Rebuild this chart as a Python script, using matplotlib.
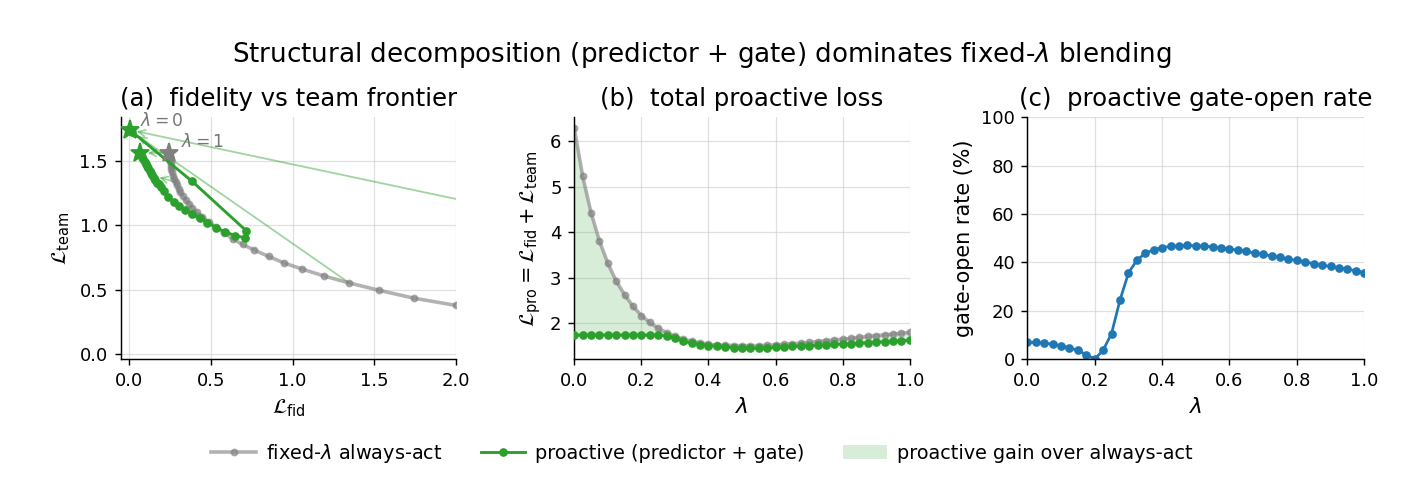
import numpy as np
import matplotlib
matplotlib.use("Agg")
import matplotlib.pyplot as plt
from matplotlib.lines import Line2D
from matplotlib.patches import Patch, FancyArrowPatch

lam = [0.000, 0.025, 0.050, 0.075, 0.100, 0.125, 0.150, 0.175, 0.200, 0.225,
       0.250, 0.275, 0.300, 0.325, 0.350, 0.375, 0.400, 0.425, 0.450, 0.475,
       0.500, 0.525, 0.550, 0.575, 0.600, 0.625, 0.650, 0.675, 0.700, 0.725,
       0.750, 0.775, 0.800, 0.825, 0.850, 0.875, 0.900, 0.925, 0.950, 0.975, 1.000]

# fixed-lambda always-act
fixed_fid = [6.21, 5.10, 4.26, 3.60, 3.07, 2.65, 2.30, 2.00, 1.74, 1.53,
             1.346, 1.192, 1.06, 0.946, 0.853, 0.767, 0.694, 0.635, 0.582, 0.532,
             0.488, 0.449, 0.415, 0.386, 0.367, 0.348, 0.330, 0.312, 0.304, 0.294,
             0.286, 0.278, 0.269, 0.262, 0.259, 0.256, 0.254, 0.251, 0.248, 0.246, 0.243]
fixed_team = [0.07, 0.13, 0.17, 0.21, 0.25, 0.28, 0.33, 0.377, 0.434, 0.494,
              0.552, 0.606, 0.659, 0.708, 0.758, 0.807, 0.851, 0.893, 0.94, 0.985,
              1.025, 1.065, 1.10, 1.135, 1.165, 1.195, 1.225, 1.255, 1.28, 1.31,
              1.335, 1.36, 1.385, 1.41, 1.435, 1.46, 1.48, 1.50, 1.52, 1.54, 1.5625]

# proactive (predictor + gate)
pro_fid = [0.004, 0.004, 0.004, 0.003, 0.003, 0.003, 0.002, 0.001, 0.000, 0.002,
           0.020, 0.387, 0.716, 0.709, 0.648, 0.587, 0.532, 0.480, 0.432, 0.383,
           0.342, 0.306, 0.275, 0.240, 0.212, 0.195, 0.182, 0.170, 0.160, 0.151,
           0.143, 0.135, 0.127, 0.119, 0.111, 0.103, 0.096, 0.089, 0.082, 0.076, 0.070]
pro_team = [1.741, 1.741, 1.741, 1.742, 1.742, 1.742, 1.743, 1.744, 1.745, 1.743,
            1.725, 1.340, 0.958, 0.903, 0.919, 0.950, 0.981, 1.020, 1.055, 1.088,
            1.120, 1.153, 1.184, 1.223, 1.263, 1.295, 1.318, 1.330, 1.350, 1.369,
            1.387, 1.405, 1.423, 1.441, 1.459, 1.477, 1.494, 1.511, 1.528, 1.544, 1.560]

gate_rate = [6.9, 6.9, 6.6, 6.2, 5.5, 4.7, 3.6, 1.9, 0.0, 3.7,
             10.6, 24.4, 35.5, 40.9, 43.7, 45.2, 46.1, 46.6, 46.8, 47.0,
             46.8, 46.7, 46.4, 46.0, 45.6, 45.0, 44.5, 43.8, 43.3, 42.6,
             42.0, 41.3, 40.8, 40.1, 39.5, 38.8, 38.3, 37.7, 37.2, 36.5, 35.8]

arrow_lams = [0.0, 0.25, 0.5, 0.75, 1.0]

lam_a = np.array(lam)
ffid, fteam = np.array(fixed_fid), np.array(fixed_team)
pfid, pteam = np.array(pro_fid), np.array(pro_team)
fixed_total = ffid + fteam
pro_total = pfid + pteam

GREEN = '#2ca02c'
GRAY = 'gray'
BLUE = '#1f77b4'

plt.rcParams['font.family'] = ['DejaVu Sans']
plt.rcParams['mathtext.fontset'] = 'dejavusans'

DPI = 130
fig = plt.figure(figsize=(1404 / DPI, 492 / DPI), dpi=DPI)
bottom, top = 0.270, 0.762
axA = fig.add_axes([0.086, bottom, 0.239, top - bottom])
axB = fig.add_axes([0.409, bottom, 0.239, top - bottom])
axC = fig.add_axes([0.7317, bottom, 0.240, top - bottom])

for ax in (axA, axB, axC):
    ax.spines['top'].set_visible(False)
    ax.spines['right'].set_visible(False)
    ax.grid(True, color='#cccccc', linewidth=0.7, alpha=0.6)
    ax.set_axisbelow(True)
    ax.tick_params(labelsize=10)

# ---- (a)
axA.plot(ffid, fteam, '-o', color=GRAY, alpha=0.6, lw=2.0, ms=3.4, zorder=2)
axA.plot(pfid, pteam, '-o', color=GREEN, lw=1.6, ms=3.8, zorder=3)
for lv in arrow_lams:
    i = lam.index(lv)
    arr = FancyArrowPatch((ffid[i], fteam[i]), (pfid[i], pteam[i]),
                          arrowstyle='->', mutation_scale=9, color=GREEN, alpha=0.45,
                          lw=1.0, shrinkA=0, shrinkB=4, zorder=1.5)
    axA.add_patch(arr)
i0, i1 = 0, len(lam) - 1
axA.plot([pfid[i0]], [pteam[i0]], marker='*', ms=11, color=GREEN, zorder=5, ls='none')
axA.plot([pfid[i1]], [pteam[i1]], marker='*', ms=11, color=GREEN, zorder=5, ls='none')
axA.plot([ffid[i1]], [fteam[i1]], marker='*', ms=11, color=GRAY, zorder=5, ls='none')
axA.annotate(r'$\lambda=0$', xy=(pfid[i0], pteam[i0]), xytext=(6, 0),
             textcoords='offset points', fontsize=9.5, color='#777777', va='bottom')
axA.annotate(r'$\lambda=1$', xy=(ffid[i1], fteam[i1]), xytext=(7, 1),
             textcoords='offset points', fontsize=9.5, color='#777777', va='bottom')
axA.set_xlim(-0.05, 2.0)
axA.set_ylim(-0.04, 1.84)
axA.set_xticks([0.0, 0.5, 1.0, 1.5, 2.0])
axA.set_yticks([0.0, 0.5, 1.0, 1.5])
axA.set_xlabel(r'$\mathcal{L}_{\mathrm{fid}}$', fontsize=11.5)
axA.set_ylabel(r'$\mathcal{L}_{\mathrm{team}}$', fontsize=11.5)
axA.set_title('(a)  fidelity vs team frontier', fontsize=13.5, pad=6)

# ---- (b)
axB.fill_between(lam_a, pro_total, fixed_total, where=fixed_total >= pro_total,
                 color=GREEN, alpha=0.18, lw=0, interpolate=True)
axB.plot(lam_a, fixed_total, '-o', color=GRAY, alpha=0.6, lw=2.0, ms=3.4, zorder=2)
axB.plot(lam_a, pro_total, '-o', color=GREEN, lw=1.6, ms=3.8, zorder=3)
axB.set_xlim(0, 1)
axB.set_yticks([2, 3, 4, 5, 6])
axB.set_xticks([0.0, 0.2, 0.4, 0.6, 0.8, 1.0])
axB.set_xlabel(r'$\lambda$', fontsize=12)
axB.set_ylabel(r'$\mathcal{L}_{\mathrm{pro}} = \mathcal{L}_{\mathrm{fid}} + \mathcal{L}_{\mathrm{team}}$', fontsize=11.5)
axB.set_title('(b)  total proactive loss', fontsize=13.5, pad=6)

# ---- (c)
axC.plot(lam_a, gate_rate, '-o', color=BLUE, lw=1.5, ms=3.8)
axC.set_xlim(0, 1)
axC.set_ylim(0, 100)
axC.set_yticks([0, 20, 40, 60, 80, 100])
axC.set_xticks([0.0, 0.2, 0.4, 0.6, 0.8, 1.0])
axC.set_xlabel(r'$\lambda$', fontsize=12)
axC.set_ylabel('gate-open rate (%)', fontsize=11.5)
axC.set_title('(c)  proactive gate-open rate', fontsize=13.5, pad=6)

fig.suptitle(r'Structural decomposition (predictor + gate) dominates fixed-$\lambda$ blending',
             fontsize=14.5, y=0.918, va='top')

handles = [
    Line2D([0], [0], color=GRAY, alpha=0.6, lw=2.0, marker='o', ms=3.4),
    Line2D([0], [0], color=GREEN, lw=1.6, marker='o', ms=3.8),
    Patch(facecolor=GREEN, alpha=0.18, edgecolor='none'),
]
labels = [r'fixed-$\lambda$ always-act', 'proactive (predictor + gate)',
          'proactive gain over always-act']
fig.legend(handles, labels, loc='center', bbox_to_anchor=(0.5, 0.079), ncol=3,
           frameon=False, fontsize=10.7, columnspacing=2.0, handlelength=2.3,
           handletextpad=0.5)

fig.savefig('out.png', dpi=DPI)
